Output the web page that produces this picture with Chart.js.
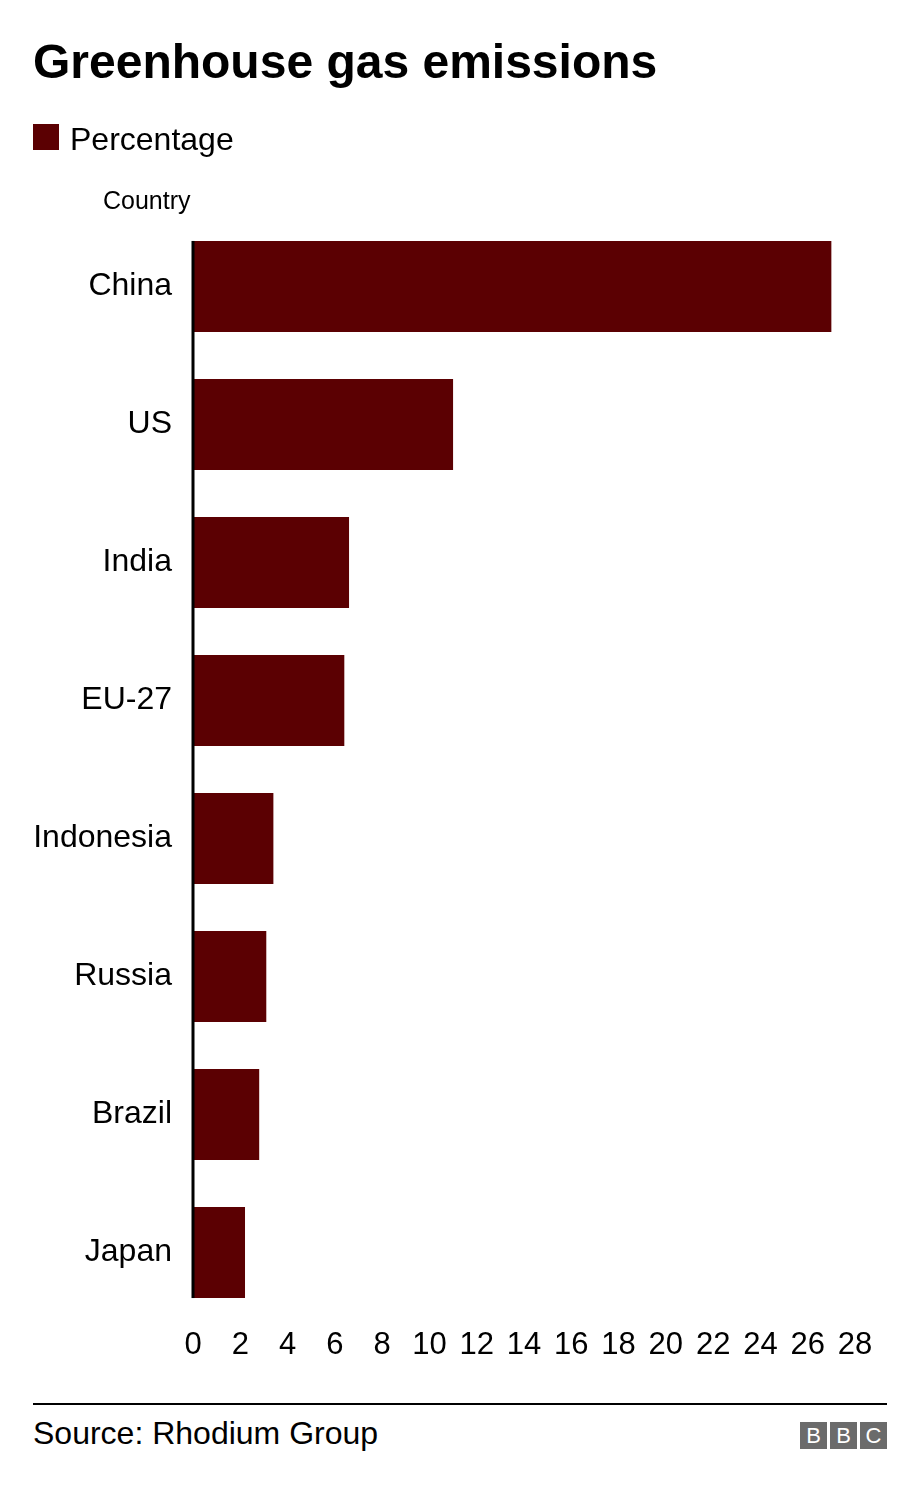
<!DOCTYPE html>
<html>
<head>
<meta charset="utf-8">
<script src="https://cdn.jsdelivr.net/npm/chart.js@4"></script>
<style>
  body { margin: 0; background: #fff; font-family: "Liberation Sans", Arial, sans-serif; color: #000; }
  #wrap { position: relative; width: 920px; height: 1492px; overflow: hidden; }
  #chart { position: absolute; left: 0; top: 0; }
  .txt { position: absolute; white-space: nowrap; line-height: 1; }
  #title { left: 33px; top: 38px; font-size: 48px; font-weight: bold; }
  #legbox { position: absolute; left: 33px; top: 124px; width: 26px; height: 26px; background: #5b0002; }
  #legtxt { left: 70px; top: 123px; font-size: 32px; }
  #ytitle { left: 103px; top: 188px; font-size: 25px; }
  #rule { position: absolute; left: 33px; top: 1403px; width: 854px; height: 2px; background: #000; }
  #source { left: 33px; top: 1417px; font-size: 32px; }
  .bbc { position: absolute; top: 1422px; width: 27px; height: 27px; background: #6b6b6b; color: #fff;
         font: 22px "Liberation Sans", Arial, sans-serif; text-align: center; line-height: 27px; }
</style>
</head>
<body>
<div id="wrap">
  <canvas id="chart" width="920" height="1380"></canvas>
  <div class="txt" id="title">Greenhouse gas emissions</div>
  <div id="legbox"></div>
  <div class="txt" id="legtxt">Percentage</div>
  <div class="txt" id="ytitle">Country</div>
  <div id="rule"></div>
  <div class="txt" id="source">Source: Rhodium Group</div>
  <div class="bbc" style="left:800px">B</div>
  <div class="bbc" style="left:830px">B</div>
  <div class="bbc" style="left:860px">C</div>
</div>
<script>
// data
var countries = ['China', 'US', 'India', 'EU-27', 'Indonesia', 'Russia', 'Brazil', 'Japan'];
var percentages = [27, 11, 6.6, 6.4, 3.4, 3.1, 2.8, 2.2];
var xTicks = [0, 2, 4, 6, 8, 10, 12, 14, 16, 18, 20, 22, 24, 26, 28];

var barColor = '#5b0002';

// vertical axis line, only as long as the bars
var axisLine = {
    id: 'axisLine',
    afterDatasetsDraw: function(chart) {
        var meta = chart.getDatasetMeta(0);
        var first = meta.data[0], last = meta.data[meta.data.length - 1];
        var x = chart.scales.x.getPixelForValue(0);
        var ctx = chart.ctx;
        ctx.save();
        ctx.fillStyle = '#000';
        ctx.fillRect(x - 1.5, first.y - first.height / 2, 3, (last.y + last.height / 2) - (first.y - first.height / 2));
        ctx.restore();
    }
};

var ctx = document.getElementById('chart').getContext('2d');
new Chart(ctx, {
    type: 'bar',
    data: {
        labels: countries,
        datasets: [{
            label: 'Percentage',
            data: percentages,
            backgroundColor: barColor,
            borderWidth: 0,
            barPercentage: 0.66,
            categoryPercentage: 1
        }]
    },
    options: {
        indexAxis: 'y',
        responsive: false,
        animation: false,
        layout: { padding: { top: 217.5, right: 65, left: 0, bottom: 0 } },
        plugins: { legend: { display: false }, tooltip: { enabled: false } },
        scales: {
            x: {
                min: 0,
                max: 28,
                afterBuildTicks: function(scale) {
                    scale.ticks = xTicks.map(function(v) { return { value: v }; });
                },
                afterFit: function(scale) { scale.height = 1380 - 1321.5; },
                grid: { display: false, drawTicks: false },
                border: { display: false },
                ticks: {
                    color: '#000',
                    padding: 5,
                    maxRotation: 0,
                    autoSkip: false,
                    font: { family: 'Liberation Sans', size: 31 }
                }
            },
            y: {
                afterFit: function(scale) { scale.width = 193; },
                grid: { display: false, drawTicks: false },
                border: { display: false },
                ticks: {
                    color: '#000',
                    padding: 21,
                    font: { family: 'Liberation Sans', size: 32 }
                }
            }
        }
    },
    plugins: [axisLine]
});
</script>
</body>
</html>
